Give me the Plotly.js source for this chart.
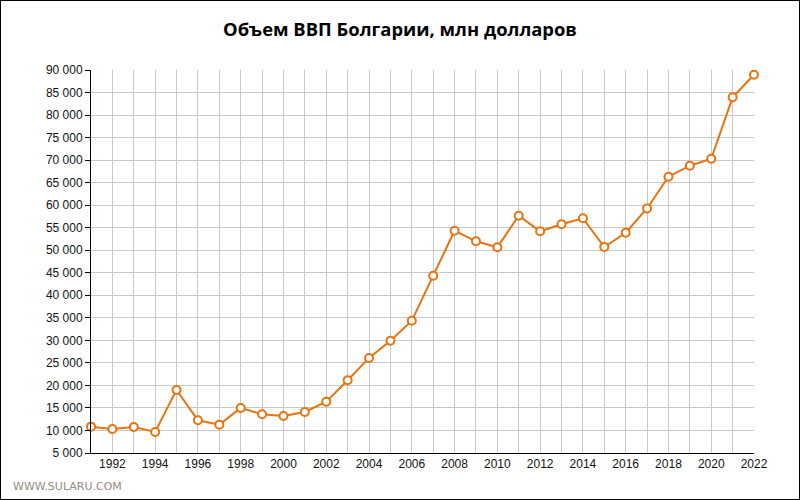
<!DOCTYPE html>
<html>
<head>
<meta charset="utf-8">
<script src="https://cdn.plot.ly/plotly-3.0.1.min.js"></script>
<style>
html,body{margin:0;padding:0;background:#fff;}
#wrap{position:relative;width:800px;height:500px;}
#chart{width:800px;height:500px;}
#frame{position:absolute;left:0;top:0;width:800px;height:500px;box-sizing:border-box;border:1px solid #000;pointer-events:none;}
</style>
</head>
<body>
<div id="wrap"><div id="chart"></div><div id="frame"></div></div>
<script>
const years = [1991,1992,1993,1994,1995,1996,1997,1998,1999,2000,2001,2002,2003,2004,2005,2006,2007,2008,2009,2010,2011,2012,2013,2014,2015,2016,2017,2018,2019,2020,2021,2022];
const gdp = [10850,10330,10780,9670,19000,12270,11290,15000,13600,13220,14110,16400,21150,26100,29900,34360,44350,54330,51980,50650,57670,54200,55760,57090,50720,53890,59260,66320,68760,70310,83940,88960];
const titleText = 'Объем ВВП Болгарии, млн долларов';
const watermark = 'WWW.SULARU.COM';

const orange = '#E8730F';
const gridColor = '#c8c8c8';
const tickFont = {family:'Liberation Sans, Arial, sans-serif', size:12, color:'#111'};

const trace = {
  x: years, y: gdp, type:'scatter', mode:'lines+markers',
  line:{color:orange, width:2},
  marker:{symbol:'circle', size:8, color:'#fff', line:{color:orange, width:2}},
  cliponaxis:false, hoverinfo:'x+y'
};

const layout = {
  width:800, height:500,
  margin:{l:91, r:46, t:70, b:47, pad:0},
  paper_bgcolor:'#fff', plot_bgcolor:'#fff',
  separators:'. ',
  showlegend:false,
  title:{text:'<b>'+titleText+'</b>', x:0.5, xanchor:'center', y:0.94, yanchor:'middle',
         font:{family:'Open Sans, sans-serif', size:18.4, color:'#000'}},
  xaxis:{
    range:[1991,2022], tick0:1992, dtick:2, showgrid:true, gridcolor:gridColor, gridwidth:1,
    minor:{dtick:1, tick0:1991, showgrid:true, gridcolor:gridColor, gridwidth:1},
    showline:true, linecolor:'#000', linewidth:1, ticks:'', zeroline:false,
    tickfont:tickFont, ticklen:0
  },
  yaxis:{
    range:[5000,90000], tick0:5000, dtick:5000, tickformat:',d',
    showgrid:true, gridcolor:gridColor, gridwidth:1,
    showline:true, linecolor:'#000', linewidth:1, ticks:'outside', ticklen:5, tickcolor:'#000',
    zeroline:false, tickfont:tickFont
  },
  annotations:[{
    text:watermark, xref:'paper', yref:'paper', x:-91/663, y:-33/383, xanchor:'left', yanchor:'middle',
    xshift:11, showarrow:false, font:{family:'DejaVu Sans, Verdana, sans-serif', size:11, color:'#9a8a80'}
  }]
};

Plotly.newPlot('chart', [trace], layout, {displayModeBar:false, staticPlot:true});
</script>
</body>
</html>
